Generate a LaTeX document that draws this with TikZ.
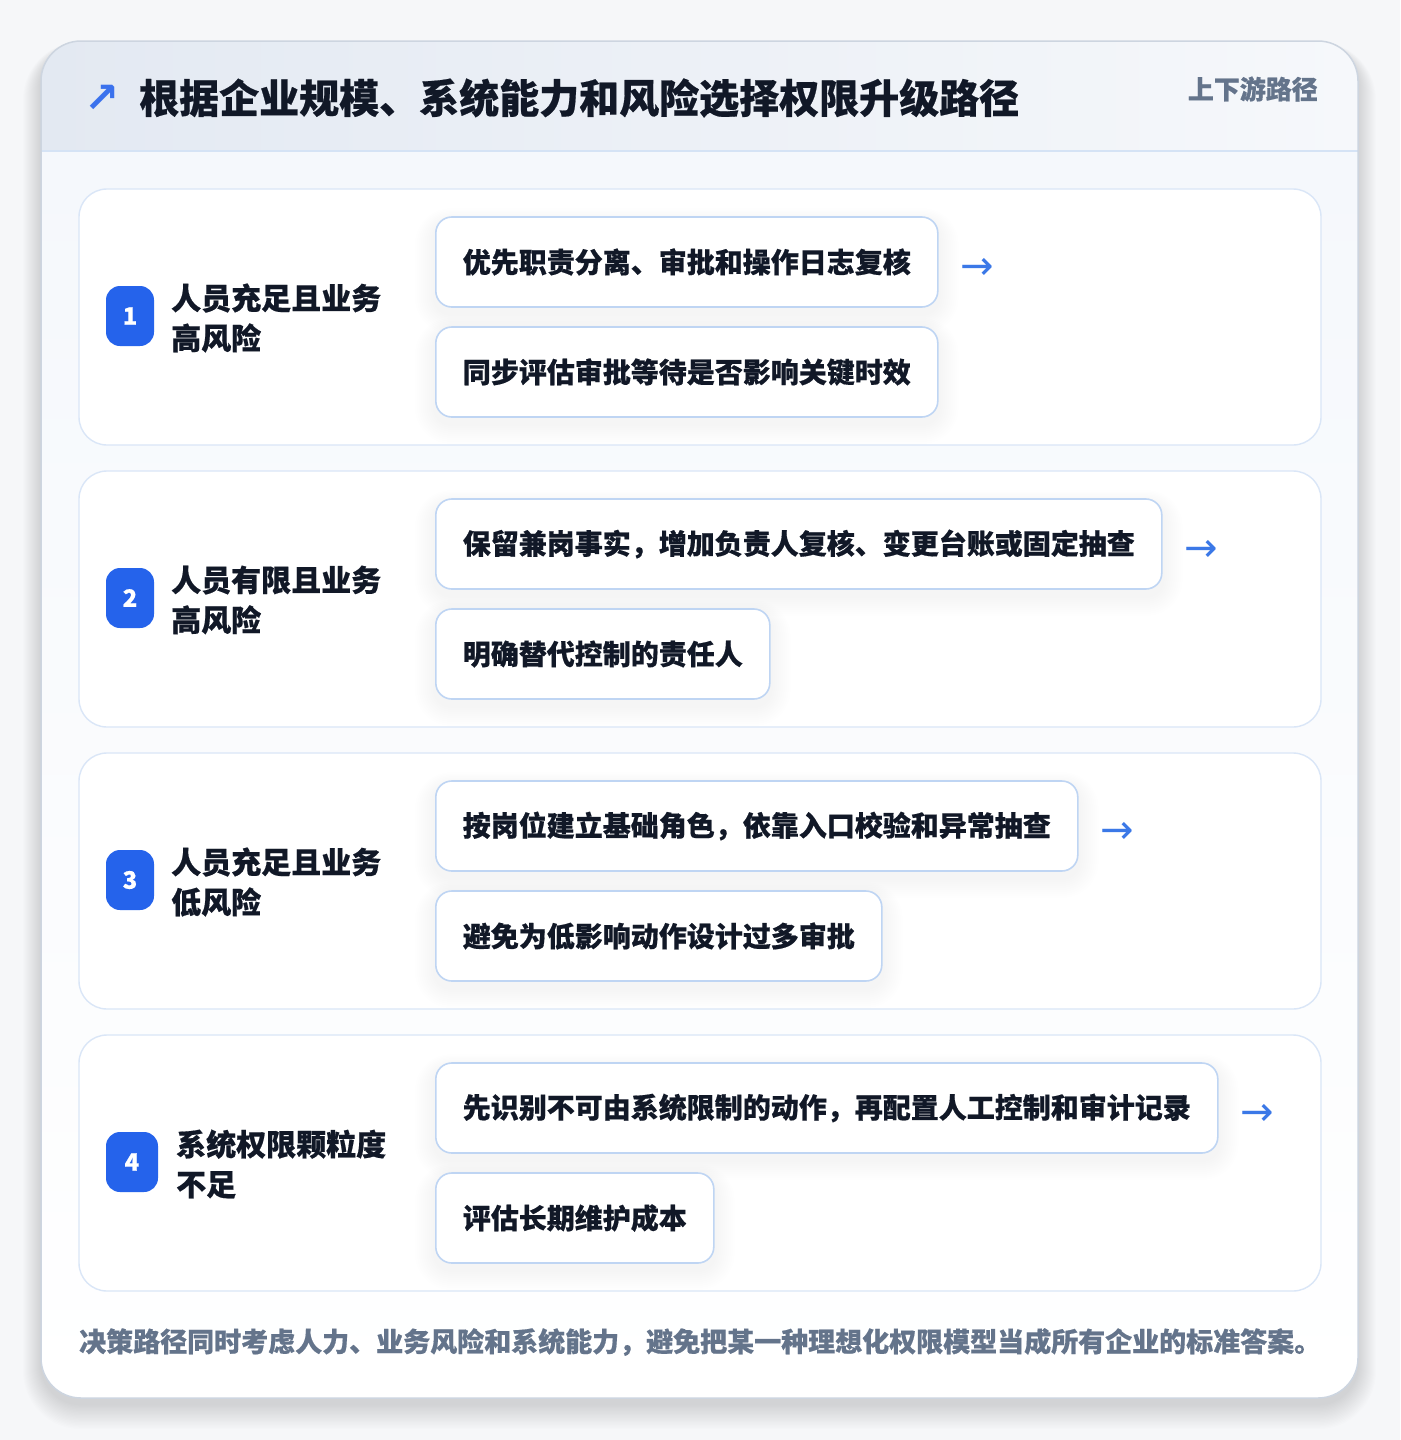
\documentclass[tikz,border=0pt]{standalone}
\usepackage{fontspec}
\setmainfont{Noto Sans CJK SC}[BoldFeatures={FakeBold=0.5}]
\newfontfamily\symfont{DejaVu Sans}
\usetikzlibrary{calc}
\definecolor{pagebg}{HTML}{F6F7F9}
\definecolor{cardline}{HTML}{CDD5E0}
\definecolor{hdrleft}{HTML}{E3E9F2}
\definecolor{hdrright}{HTML}{F6F8FB}
\definecolor{hdrline}{HTML}{D5E3F5}
\definecolor{bodytop}{HTML}{F5F8FC}
\definecolor{rowline}{HTML}{DAE6F7}
\definecolor{optline}{HTML}{BFD5F3}
\definecolor{badgeblue}{HTML}{2563EB}
\definecolor{ink}{HTML}{111827}
\definecolor{muted}{HTML}{64748B}
\definecolor{arrowblue}{HTML}{3B78E7}
\pgfdeclarelayer{bg}
\pgfdeclarelayer{shd}
\pgfsetlayers{bg,shd,main}
\begin{document}
\begin{tikzpicture}[x=1pt,y=-1pt,
  optbox/.style={draw=optline, line width=1.6pt, fill=white, rounded corners=16pt,
    minimum height=90pt, inner xsep=27pt, inner ysep=0pt, anchor=west, text=ink,
    font=\fontsize{28}{34}\selectfont\bfseries},
  badge/.style={fill=badgeblue, rounded corners=14pt, minimum height=60pt, inner sep=0pt,
    text=white, font=\fontsize{24}{28}\selectfont\bfseries},
  lbl/.style={anchor=west, align=left, inner sep=0pt, text=ink,
    font=\fontsize{30}{40}\selectfont\bfseries},
  arr/.style={text=arrowblue, font=\symfont\fontsize{40}{44}\selectfont, inner sep=0pt, anchor=west},
  rowcard/.style={draw=rowline, line width=1.4pt, fill=white, rounded corners=28pt}
]
\useasboundingbox (0,0) rectangle (1400,1440);
\begin{pgfonlayer}{bg}
\fill[pagebg] (0,0) rectangle (1400,1440);
% outer card shadow
\foreach \k in {1,...,18}{
  \fill[black, opacity=0.006, rounded corners=40+\k] (41-\k,47-0.3*\k) rectangle (1358+\k,1404+1.4*\k);
}
% outer card
\fill[white, rounded corners=40pt] (41,41) rectangle (1358,1398);
\begin{scope}
  \clip[rounded corners=40pt] (41,41) rectangle (1358,1398);
  \shade[top color=bodytop, bottom color=white] (41,151) rectangle (1358,1398);
  \shade[left color=hdrleft, right color=hdrright] (41,41) rectangle (1358,151);
  \draw[hdrline, line width=1.5pt] (41,151) -- (1358,151);
\end{scope}
\draw[cardline, line width=1.5pt, rounded corners=40pt] (41,41) rectangle (1358,1398);
% row cards
\foreach \i in {0,1,2,3}{
  \path[rowcard] (79,189+282*\i) rectangle (1321,445+282*\i);
}
\end{pgfonlayer}

% header
\node[text=badgeblue!90!white, font=\symfont\bfseries\fontsize{42}{44}\selectfont, inner sep=0pt] (icon) at (102,99) {↗};
\node[anchor=west, inner sep=0pt, text=ink, font=\fontsize{40}{48}\selectfont\bfseries] (title) at (139,98) {根据企业规模、系统能力和风险选择权限升级路径};
\node[anchor=east, inner sep=0pt, text=muted, font=\fontsize{26}{30}\selectfont\bfseries] (sub) at (1318,89) {上下游路径};

% row 1
\node[badge, minimum width=48pt] (b1) at (130,316) {1};
\node[lbl] (l1) at (171,318) {人员充足且业务\\高风险};
\node[optbox] (o1a) at (435,262) {优先职责分离、审批和操作日志复核};
\node[optbox] (o1b) at (435,372) {同步评估审批等待是否影响关键时效};
\node[arr] (a1) at ($(o1a.east)+(22,7)$) {→};

% row 2
\node[badge, minimum width=48pt] (b2) at (130,598) {2};
\node[lbl] (l2) at (171,600) {人员有限且业务\\高风险};
\node[optbox] (o2a) at (435,544) {保留兼岗事实，增加负责人复核、变更台账或固定抽查};
\node[optbox] (o2b) at (435,654) {明确替代控制的责任人};
\node[arr] (a2) at ($(o2a.east)+(22,7)$) {→};

% row 3
\node[badge, minimum width=48pt] (b3) at (130,880) {3};
\node[lbl] (l3) at (171,882) {人员充足且业务\\低风险};
\node[optbox] (o3a) at (435,826) {按岗位建立基础角色，依靠入口校验和异常抽查};
\node[optbox] (o3b) at (435,936) {避免为低影响动作设计过多审批};
\node[arr] (a3) at ($(o3a.east)+(22,7)$) {→};

% row 4
\node[badge, minimum width=52pt] (b4) at (132,1162) {4};
\node[lbl] (l4) at (176,1164) {系统权限颗粒度\\不足};
\node[optbox] (o4a) at (435,1108) {先识别不可由系统限制的动作，再配置人工控制和审计记录};
\node[optbox] (o4b) at (435,1218) {评估长期维护成本};
\node[arr] (a4) at ($(o4a.east)+(22,7)$) {→};

% option box shadows
\begin{pgfonlayer}{shd}
\foreach \n in {o1a,o1b,o2a,o2b,o3a,o3b,o4a,o4b}{
  \foreach \k in {1,...,10}{
    \fill[black, opacity=0.0045, rounded corners=16+2*\k]
      ($(\n.north west)+(-2*\k,6-1.4*\k)$) rectangle ($(\n.south east)+(2*\k,6+2*\k)$);
  }
}
\end{pgfonlayer}

% footer
\node[anchor=west, inner sep=0pt, text=muted, font=\fontsize{27}{32}\selectfont\bfseries] (foot) at (79,1342) {决策路径同时考虑人力、业务风险和系统能力，避免把某一种理想化权限模型当成所有企业的标准答案。};
\end{tikzpicture}
\end{document}
